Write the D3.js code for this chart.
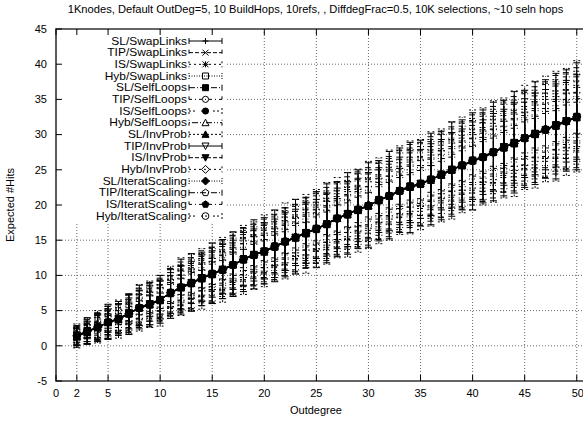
<!DOCTYPE html>
<html><head><meta charset="utf-8">
<script src="https://cdn.jsdelivr.net/npm/d3@7"></script>
<style>
body{margin:0;background:#fff}
svg{display:block}
text{font-family:"Liberation Sans",Arial,Helvetica,sans-serif;fill:#000}
</style>
</head><body><svg id="c" width="583" height="422"></svg>
<script>
// ---------------- DATA ----------------
const title = "1Knodes, Default OutDeg=5, 10 BuildHops, 10refs, , DiffdegFrac=0.5, 10K selections, ~10 seln hops";
const xLabel = "Outdegree";
const yLabel = "Expected #Hits";
const xTicks = [0, 2, 5, 10, 15, 20, 25, 30, 35, 40, 45, 50];
const yTicks = [-5, 0, 5, 10, 15, 20, 25, 30, 35, 40, 45];
const outdegree = [2,3,4,5,6,7,8,9,10,11,12,13,14,15,16,17,18,19,20,21,22,23,24,25,26,27,28,29,30,31,32,33,34,35,36,37,38,39,40,41,42,43,44,45,46,47,48,49,50];
const seriesNames = ["SL/SwapLinks","TIP/SwapLinks","IS/SwapLinks","Hyb/SwapLinks","SL/SelfLoops","TIP/SelfLoops","IS/SelfLoops","Hyb/SelfLoops","SL/InvProb","TIP/InvProb","IS/InvProb","Hyb/InvProb","SL/IteratScaling","TIP/IteratScaling","IS/IteratScaling","Hyb/IteratScaling"];

const mean_SL_SwapLinks = [1.5,2.1,2.6,3.4,3.9,4.5,5.5,6.0,6.6,7.4,8.4,9.0,9.5,10.3,10.9,11.6,12.2,13.0,13.5,14.2,14.7,15.5,16.1,16.5,17.4,18.0,18.8,19.4,20.0,20.6,21.4,22.1,22.5,23.1,23.7,24.2,25.1,25.7,26.2,26.9,27.6,28.1,28.9,29.4,30.2,30.8,31.2,32.0,32.6];
const mean_TIP_SwapLinks = [1.3,1.9,2.7,3.2,3.9,4.7,5.3,5.8,6.6,7.6,8.2,8.8,9.7,10.1,10.9,11.4,12.4,12.8,13.5,14.0,14.9,15.3,16.1,16.7,17.2,18.2,18.6,19.4,19.8,20.8,21.2,22.1,22.7,22.9,23.7,24.4,24.9,25.5,26.4,26.7,27.6,28.3,28.7,29.6,30.0,30.8,31.4,31.8,32.4];
const mean_IS_SwapLinks = [1.4,2.1,2.5,3.3,3.7,4.6,5.5,5.9,6.4,7.5,8.4,8.9,9.5,10.2,10.7,11.6,12.3,13.0,13.3,14.1,14.7,15.5,15.9,16.6,17.4,18.0,18.7,19.2,20.0,20.6,21.4,21.9,22.6,23.1,23.5,24.3,25.1,25.6,26.2,26.9,27.4,28.2,28.9,29.4,30.2,30.6,31.3,32.0,32.5];
const mean_Hyb_SwapLinks = [1.5,2.0,2.6,3.4,3.8,4.5,5.3,6.0,6.5,7.4,8.3,9.0,9.6,10.3,10.8,11.5,12.2,12.9,13.5,14.2,14.8,15.4,16.1,16.5,17.3,18.1,18.8,19.3,19.9,20.8,21.3,22.0,22.5,23.0,23.6,24.2,25.0,25.7,26.3,26.8,27.5,28.1,28.8,29.5,30.1,30.7,31.2,31.9,32.6];
const mean_SL_SelfLoops = [1.3,2.0,2.7,3.3,3.9,4.6,5.4,5.8,6.5,7.6,8.3,8.8,9.6,10.1,10.8,11.5,12.4,12.9,13.4,14.0,14.8,15.3,16.0,16.7,17.3,18.1,18.6,19.3,19.8,20.7,21.2,22.0,22.7,23.0,23.7,24.3,24.9,25.6,26.4,26.8,27.5,28.3,28.7,29.5,30.0,30.7,31.4,31.9,32.4];
const mean_TIP_SelfLoops = [1.4,2.0,2.6,3.2,3.8,4.7,5.4,5.9,6.5,7.5,8.2,8.9,9.7,10.2,10.9,11.4,12.3,12.8,13.4,14.1,14.9,15.4,16.0,16.6,17.2,18.2,18.7,19.4,19.9,20.6,21.3,22.1,22.6,22.9,23.6,24.4,25.0,25.5,26.3,26.7,27.6,28.2,28.8,29.6,30.1,30.6,31.3,31.8,32.5];
const mean_IS_SelfLoops = [1.5,2.1,2.6,3.3,3.8,4.6,5.3,5.9,6.6,7.4,8.3,8.9,9.6,10.2,10.7,11.5,12.3,13.0,13.4,14.1,14.7,15.4,16.1,16.6,17.3,18.0,18.7,19.3,20.0,20.7,21.3,21.9,22.6,23.1,23.6,24.3,25.1,25.6,26.2,26.8,27.4,28.2,28.8,29.4,30.1,30.8,31.3,32.0,32.5];
const mean_Hyb_SelfLoops = [1.4,1.9,2.6,3.4,3.8,4.5,5.4,5.9,6.4,7.5,8.4,8.9,9.5,10.3,10.8,11.6,12.2,12.9,13.5,14.1,14.8,15.5,15.9,16.6,17.4,18.1,18.7,19.2,19.9,20.7,21.4,22.0,22.5,23.0,23.5,24.3,25.0,25.7,26.3,26.9,27.5,28.1,28.9,29.5,30.2,30.7,31.2,31.9,32.6];
const mean_SL_InvProb = [1.3,2.0,2.7,3.3,3.7,4.6,5.5,5.8,6.5,7.6,8.2,8.9,9.6,10.1,10.8,11.5,12.4,12.9,13.3,14.2,14.8,15.3,16.0,16.7,17.2,18.1,18.6,19.3,19.9,20.6,21.3,22.1,22.6,23.0,23.7,24.2,25.0,25.6,26.4,26.8,27.6,28.2,28.7,29.5,30.0,30.7,31.3,31.9,32.4];
const mean_TIP_InvProb = [1.4,2.0,2.6,3.3,3.9,4.6,5.4,6.0,6.5,7.5,8.3,9.0,9.6,10.2,10.9,11.5,12.3,12.9,13.4,14.1,14.8,15.4,16.0,16.6,17.3,18.1,18.7,19.3,19.9,20.7,21.3,22.0,22.6,23.0,23.6,24.3,25.0,25.6,26.3,26.8,27.5,28.2,28.8,29.5,30.1,30.7,31.3,31.9,32.5];
const mean_IS_InvProb = [1.5,2.0,2.5,3.2,3.8,4.7,5.3,5.9,6.6,7.4,8.3,8.8,9.7,10.2,10.7,11.4,12.3,13.0,13.4,14.0,14.7,15.4,16.1,16.5,17.3,18.0,18.8,19.4,19.8,20.7,21.2,22.0,22.7,23.1,23.6,24.4,25.1,25.5,26.2,26.7,27.4,28.3,28.9,29.4,30.2,30.6,31.4,32.0,32.4];
const mean_Hyb_InvProb = [1.4,2.1,2.7,3.4,3.8,4.5,5.4,5.9,6.4,7.6,8.4,9.0,9.5,10.3,10.8,11.6,12.2,12.8,13.5,14.2,14.9,15.5,15.9,16.7,17.4,18.2,18.6,19.2,20.0,20.6,21.4,22.1,22.5,22.9,23.7,24.2,24.9,25.7,26.4,26.9,27.6,28.1,28.7,29.6,30.0,30.8,31.2,31.8,32.6];
const mean_SL_IteratScaling = [1.4,2.0,2.6,3.3,3.9,4.6,5.5,5.9,6.5,7.5,8.2,8.9,9.6,10.1,10.9,11.5,12.3,12.9,13.3,14.1,14.8,15.3,16.0,16.6,17.2,18.1,18.7,19.3,19.9,20.8,21.3,21.9,22.6,23.0,23.6,24.3,25.0,25.6,26.3,26.8,27.5,28.2,28.8,29.5,30.1,30.7,31.3,31.9,32.5];
const mean_TIP_IteratScaling = [1.3,1.9,2.6,3.3,3.8,4.6,5.4,5.8,6.6,7.4,8.3,8.9,9.6,10.2,10.8,11.4,12.2,13.0,13.4,14.0,14.8,15.4,16.1,16.5,17.3,18.0,18.7,19.4,19.9,20.7,21.2,22.0,22.6,23.1,23.5,24.3,25.1,25.6,26.2,26.8,27.4,28.2,28.9,29.4,30.1,30.6,31.3,32.0,32.5];
const mean_IS_IteratScaling = [1.5,2.0,2.7,3.3,3.8,4.5,5.4,6.0,6.5,7.5,8.4,8.9,9.5,10.2,10.8,11.6,12.4,12.9,13.5,14.1,14.7,15.5,16.0,16.6,17.4,18.1,18.6,19.3,20.0,20.7,21.4,22.0,22.5,22.9,23.7,24.2,24.9,25.6,26.3,26.9,27.5,28.1,28.8,29.6,30.2,30.7,31.2,31.9,32.4];
const mean_Hyb_IteratScaling = [1.4,2.1,2.6,3.4,3.7,4.7,5.3,5.9,6.4,7.6,8.3,9.0,9.7,10.3,10.7,11.5,12.3,12.8,13.4,14.2,14.9,15.4,15.9,16.7,17.3,18.1,18.8,19.2,19.9,20.6,21.3,22.1,22.7,23.0,23.6,24.4,25.0,25.7,26.2,26.7,27.6,28.3,28.7,29.5,30.0,30.8,31.4,31.8,32.6];

const err_SL_SwapLinks = [1.4,1.9,2.0,2.5,2.4,2.9,3.1,3.0,3.4,3.5,3.9,4.1,3.8,4.3,4.2,4.6,4.5,4.9,4.7,5.1,4.9,5.3,5.0,5.4,5.6,5.3,5.8,5.6,6.0,5.7,6.2,6.0,6.4,6.1,6.5,6.3,6.7,6.4,6.9,6.6,7.0,6.8,7.2,6.9,7.3,7.0,7.5,7.2,7.6];
const err_TIP_SwapLinks = [1.2,1.6,1.7,2.1,2.0,2.5,2.5,2.8,2.7,3.2,3.1,3.4,3.3,3.7,3.6,3.9,3.8,4.1,4.0,4.3,4.2,4.5,4.3,4.6,4.5,4.8,4.7,5.0,4.8,5.1,5.0,5.3,5.2,5.4,5.3,5.6,5.4,5.7,5.6,5.9,5.7,6.0,5.9,6.2,5.9,6.3,6.1,6.4,6.2];
const err_IS_SwapLinks = [0.9,0.9,1.3,1.2,1.5,1.4,1.8,1.7,1.9,1.9,2.2,2.0,2.3,2.2,2.5,2.3,2.6,2.5,2.7,2.6,2.9,2.7,3.0,2.8,3.1,2.9,3.2,3.0,3.3,3.1,3.4,3.3,3.5,3.3,3.6,3.4,3.7,3.5,3.8,3.6,3.8,3.7,4.0,3.8,4.0,3.9,4.1,3.9,4.2];
const err_Hyb_SwapLinks = [1.0,1.4,1.4,1.8,1.7,2.1,2.0,2.3,2.2,2.6,2.6,2.8,2.7,3.0,2.9,3.2,3.1,3.4,3.3,3.5,3.4,3.7,3.5,3.8,3.7,4.0,3.8,4.1,4.0,4.2,4.1,4.4,4.2,4.4,4.3,4.6,4.5,4.7,4.6,4.8,4.7,4.9,4.8,5.1,4.9,5.1,5.0,5.2,5.1];
const err_SL_SelfLoops = [1.5,1.7,2.0,2.3,2.4,2.7,2.8,3.1,3.1,3.4,3.6,3.7,3.9,3.9,4.1,4.2,4.4,4.4,4.6,4.6,4.8,4.8,5.0,5.0,5.2,5.2,5.4,5.4,5.5,5.6,5.7,5.8,5.9,5.9,6.0,6.1,6.2,6.2,6.4,6.3,6.5,6.5,6.7,6.7,6.8,6.8,7.0,6.9,7.1];
const err_TIP_SelfLoops = [0.6,0.9,0.9,1.0,1.2,1.2,1.5,1.3,1.6,1.5,1.8,1.7,1.9,1.8,2.0,1.9,2.2,2.0,2.3,2.1,2.4,2.2,2.4,2.3,2.5,2.4,2.6,2.5,2.7,2.6,2.8,2.6,2.9,2.7,2.9,2.8,3.0,2.9,3.1,2.9,3.2,3.0,3.3,3.1,3.3,3.1,3.4,3.2,3.4];
const err_IS_SelfLoops = [1.0,1.0,1.4,1.3,1.6,1.6,1.9,1.8,2.1,2.1,2.4,2.2,2.5,2.4,2.7,2.5,2.9,2.7,3.0,2.8,3.1,3.0,3.2,3.1,3.3,3.2,3.5,3.3,3.6,3.4,3.7,3.6,3.8,3.6,3.9,3.7,4.0,3.9,4.1,3.9,4.2,4.0,4.3,4.2,4.4,4.2,4.5,4.3,4.5];
const err_Hyb_SelfLoops = [0.5,0.7,0.6,0.9,0.8,1.1,1.0,1.2,1.1,1.4,1.2,1.5,1.3,1.6,1.4,1.6,1.5,1.7,1.6,1.8,1.7,1.9,1.7,2.0,1.8,2.0,1.9,2.1,1.9,2.2,2.0,2.2,2.1,2.3,2.1,2.3,2.2,2.4,2.2,2.4,2.3,2.5,2.4,2.6,2.4,2.6,2.5,2.7,2.5];
const err_SL_InvProb = [1.3,1.7,1.8,2.3,2.2,2.6,2.6,3.0,2.9,3.3,3.3,3.6,3.5,3.9,3.8,4.1,4.0,4.3,4.2,4.5,4.4,4.7,4.6,4.9,4.8,5.1,4.9,5.2,5.1,5.4,5.3,5.6,5.5,5.7,5.6,5.9,5.8,6.0,5.9,6.1,6.0,6.3,6.2,6.5,6.3,6.6,6.5,6.7,6.6];
const err_TIP_InvProb = [1.3,1.4,1.8,1.9,2.1,2.2,2.5,2.5,2.7,2.9,3.1,3.0,3.3,3.3,3.5,3.5,3.8,3.7,3.9,3.9,4.1,4.0,4.3,4.2,4.4,4.3,4.6,4.5,4.7,4.6,4.9,4.8,5.1,4.9,5.1,5.0,5.3,5.2,5.5,5.3,5.5,5.4,5.7,5.6,5.8,5.7,5.9,5.8,6.0];
const err_IS_InvProb = [0.7,1.0,1.0,1.3,1.2,1.5,1.4,1.7,1.6,1.9,1.8,2.1,1.9,2.2,2.1,2.3,2.2,2.5,2.3,2.6,2.4,2.7,2.5,2.8,2.6,2.9,2.7,3.0,2.8,3.1,2.9,3.2,3.0,3.2,3.1,3.3,3.2,3.4,3.3,3.5,3.3,3.6,3.4,3.7,3.5,3.7,3.6,3.8,3.6];
const err_Hyb_InvProb = [1.7,1.8,2.3,2.4,2.7,2.8,3.3,3.3,3.6,3.7,4.1,4.0,4.3,4.3,4.6,4.5,4.9,4.8,5.1,5.0,5.4,5.3,5.6,5.5,5.8,5.7,6.0,5.9,6.2,6.1,6.4,6.3,6.6,6.4,6.7,6.6,6.9,6.8,7.1,6.9,7.2,7.1,7.5,7.4,7.6,7.5,7.8,7.6,7.9];
const err_SL_IteratScaling = [0.6,0.8,0.7,1.1,0.9,1.2,1.1,1.4,1.2,1.5,1.4,1.7,1.5,1.8,1.6,1.9,1.7,2.0,1.8,2.1,1.9,2.1,2.0,2.2,2.1,2.3,2.1,2.4,2.2,2.5,2.3,2.5,2.4,2.6,2.4,2.7,2.5,2.7,2.6,2.8,2.6,2.9,2.7,2.9,2.7,3.0,2.8,3.0,2.9];
const err_TIP_IteratScaling = [1.2,1.3,1.7,1.7,2.0,2.0,2.4,2.3,2.6,2.6,3.0,2.8,3.1,3.1,3.3,3.2,3.6,3.4,3.7,3.6,3.9,3.7,4.0,3.9,4.2,4.0,4.3,4.2,4.5,4.3,4.6,4.5,4.8,4.6,4.8,4.7,5.0,4.9,5.1,4.9,5.2,5.1,5.4,5.2,5.4,5.3,5.6,5.4,5.7];
const err_IS_IteratScaling = [0.4,0.6,0.6,0.8,0.7,0.9,0.9,1.1,1.0,1.2,1.1,1.3,1.2,1.4,1.3,1.4,1.3,1.5,1.4,1.6,1.5,1.6,1.5,1.7,1.6,1.8,1.7,1.8,1.7,1.9,1.8,1.9,1.8,2.0,1.9,2.0,1.9,2.1,2.0,2.1,2.0,2.2,2.1,2.2,2.1,2.3,2.2,2.3,2.2];
const err_Hyb_IteratScaling = [1.1,1.1,1.5,1.5,1.7,1.7,2.1,2.0,2.2,2.2,2.6,2.4,2.7,2.6,2.9,2.8,3.1,3.0,3.2,3.1,3.4,3.2,3.5,3.3,3.6,3.5,3.7,3.6,3.9,3.7,4.0,3.9,4.1,3.9,4.2,4.1,4.3,4.2,4.5,4.3,4.5,4.4,4.7,4.5,4.7,4.6,4.8,4.6,4.9];

const seriesMeans = [mean_SL_SwapLinks,mean_TIP_SwapLinks,mean_IS_SwapLinks,mean_Hyb_SwapLinks,mean_SL_SelfLoops,mean_TIP_SelfLoops,mean_IS_SelfLoops,mean_Hyb_SelfLoops,mean_SL_InvProb,mean_TIP_InvProb,mean_IS_InvProb,mean_Hyb_InvProb,mean_SL_IteratScaling,mean_TIP_IteratScaling,mean_IS_IteratScaling,mean_Hyb_IteratScaling];
const seriesErrs = [err_SL_SwapLinks,err_TIP_SwapLinks,err_IS_SwapLinks,err_Hyb_SwapLinks,err_SL_SelfLoops,err_TIP_SelfLoops,err_IS_SelfLoops,err_Hyb_SelfLoops,err_SL_InvProb,err_TIP_InvProb,err_IS_InvProb,err_Hyb_InvProb,err_SL_IteratScaling,err_TIP_IteratScaling,err_IS_IteratScaling,err_Hyb_IteratScaling];

// ---------------- STYLE ----------------
const FONT = 11;
const LEG_FONT = 10.3;
const LEG_STRETCH = 1.16;
const dashPatterns = ["", "4,2", "2,3", "1,1.5", "6,2,1,2", "3,3,1,3", "2,2,2,6", "1,2,6,2,1,2", "2,2,2,2,2,2,2,4"];
const L = 56, R = 583, T = 29, B = 381;

const svg = d3.select("#c");
const x = d3.scaleLinear().domain([0, 50.6]).range([L, R]);
const y = d3.scaleLinear().domain([-5, 45]).range([B, T]);

// grid
const grid = svg.append("g").attr("stroke", "#444").attr("stroke-width", 0.8).attr("stroke-dasharray", "1,2");
xTicks.filter(t => t > 0).forEach(t => grid.append("line").attr("x1", x(t)).attr("x2", x(t)).attr("y1", T).attr("y2", B));
yTicks.filter(t => t > -5 && t < 45).forEach(t => grid.append("line").attr("x1", L).attr("x2", R).attr("y1", y(t)).attr("y2", y(t)));

// legend background (opaque key)
const legX0 = L, legX1 = 227, legY0 = T + 1, legY1 = 222;
svg.append("rect").attr("x", legX0).attr("y", legY0).attr("width", legX1 - legX0).attr("height", legY1 - legY0).attr("fill", "#fff");

// point shapes
function pointPath(t) {
  const s = 3;
  switch (t) {
    case 0: return `M${-s},0H${s}M0,${-s}V${s}`;
    case 1: return `M${-s},${-s}L${s},${s}M${-s},${s}L${s},${-s}`;
    case 2: return `M${-s},0H${s}M0,${-s}V${s}M${-s},${-s}L${s},${s}M${-s},${s}L${s},${-s}`;
    case 3: case 4: return `M${-s},${-s}H${s}V${s}H${-s}Z`;
    case 5: case 6: return d3.symbol(d3.symbolCircle, 30)();
    case 7: case 8: return `M0,${-s - 0.5}L${s + 0.5},${s}L${-s - 0.5},${s}Z`;
    case 9: case 10: return `M0,${s + 0.5}L${s + 0.5},${-s}L${-s - 0.5},${-s}Z`;
    case 11: case 12: return `M0,${-s - 1}L${s + 1},0L0,${s + 1}L${-s - 1},0Z`;
    case 13: case 14: {
      const pts = d3.range(5).map(k => { const a = -Math.PI / 2 + k * 2 * Math.PI / 5; return [(s + 0.6) * Math.cos(a), (s + 0.6) * Math.sin(a)]; });
      return "M" + pts.map(p => p.join(",")).join("L") + "Z";
    }
    default: return d3.symbol(d3.symbolCircle, 36)();
  }
}
const filledTypes = new Set([4, 6, 8, 10, 12, 14]);
function drawPoint(g, px, py, t) {
  g.append("path").attr("d", pointPath(t)).attr("transform", `translate(${px},${py})`)
    .attr("fill", filledTypes.has(t) ? "#000" : "none").attr("stroke", "#000").attr("stroke-width", 1);
}

// series
const plot = svg.append("g");
const cap = 3.5;
seriesNames.forEach((name, i) => {
  const g = plot.append("g");
  const dash = dashPatterns[i % 9];
  const means = seriesMeans[i], errs = seriesErrs[i];
  const pts = outdegree.map((d, k) => ({ x: d, m: means[k], e: errs[k] }));
  const line = d3.line().x(d => x(d.x)).y(d => y(d.m));
  g.append("path").attr("d", line(pts)).attr("fill", "none").attr("stroke", "#000").attr("stroke-width", 1).attr("stroke-dasharray", dash);
  const eb = g.append("g").attr("stroke", "#000").attr("stroke-width", 1).attr("stroke-dasharray", dash).attr("fill", "none");
  pts.forEach(p => {
    const cx = x(p.x), y0 = y(p.m - p.e), y1 = y(p.m + p.e);
    eb.append("path").attr("d", `M${cx},${y0}V${y1}M${cx - cap},${y0}H${cx + cap}M${cx - cap},${y1}H${cx + cap}`);
  });
  pts.forEach(p => drawPoint(g, x(p.x), y(p.m), i));
});

// legend
const leg = svg.append("g");
seriesNames.forEach((name, i) => {
  const ry = 41 + i * 11.67;
  const t = leg.append("text").attr("x", 187).attr("y", ry).attr("dy", "0.35em").attr("text-anchor", "end").attr("font-size", LEG_FONT).text(name);
  const w = t.node().getComputedTextLength();
  t.attr("textLength", w * LEG_STRETCH).attr("lengthAdjust", "spacingAndGlyphs");
  const dash = dashPatterns[i % 9];
  leg.append("path").attr("d", `M189,${ry}H222M189,${ry - 3}V${ry + 3}M222,${ry - 3}V${ry + 3}`)
    .attr("stroke", "#000").attr("stroke-width", 1).attr("stroke-dasharray", dash).attr("fill", "none");
  drawPoint(leg, 205.5, ry, i);
});

// border
const border = svg.append("g").attr("stroke", "#333").attr("stroke-width", 1.6).attr("fill", "none");
border.append("path").attr("d", `M${R},${T}H${L}V${B}H${R}`);

// ticks
const tk = svg.append("g").attr("stroke", "#000").attr("stroke-width", 1);
yTicks.forEach(t => tk.append("line").attr("x1", L).attr("x2", L + 6).attr("y1", y(t)).attr("y2", y(t)));
xTicks.forEach(t => {
  tk.append("line").attr("x1", x(t)).attr("x2", x(t)).attr("y1", B).attr("y2", B - 6);
  tk.append("line").attr("x1", x(t)).attr("x2", x(t)).attr("y1", T).attr("y2", T + 6);
});

// tick labels
const lab = svg.append("g").attr("font-size", FONT);
yTicks.forEach(t => lab.append("text").attr("x", 47).attr("y", y(t)).attr("dy", "0.35em").attr("text-anchor", "end").text(t));
xTicks.forEach(t => lab.append("text").attr("x", x(t) + (t === 50 ? 1 : 0)).attr("y", 397).attr("text-anchor", "middle").text(t));

// titles
svg.append("text").attr("x", 315.5).attr("y", 13).attr("text-anchor", "middle").attr("font-size", 11.15).text(title);
svg.append("text").attr("x", 316).attr("y", 414).attr("text-anchor", "middle").attr("font-size", FONT).text(xLabel);
svg.append("text").attr("transform", "translate(14,205) rotate(-90)").attr("text-anchor", "middle").attr("font-size", FONT).text(yLabel);
</script>
</body></html>
